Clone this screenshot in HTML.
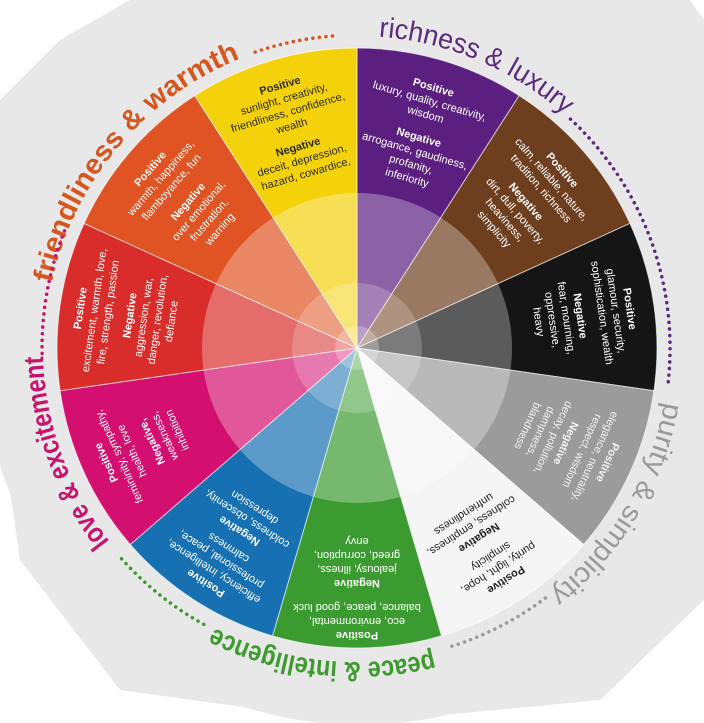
<!DOCTYPE html>
<html><head><meta charset="utf-8"><style>
html,body{margin:0;padding:0;background:#fff;width:704px;height:723px;overflow:hidden}
svg{display:block}
.t{font-family:"Liberation Sans",sans-serif;font-size:11px;text-anchor:middle}
.h{font-weight:bold}
.big{font-family:"Liberation Sans",sans-serif;font-size:28px}
</style></head><body>
<svg width="704" height="723" viewBox="0 0 704 723" xmlns="http://www.w3.org/2000/svg">
<circle cx="360" cy="345" r="380" fill="#e8e8e8"/>
<path d="M130 0 L690 0 L704 20 L704 600 L600 700 L360 723 L120 690 L20 560 L0 420 L0 100 L60 40 Z" fill="#e8e8e8"/>
<g stroke="rgba(255,255,255,0.6)" stroke-width="1">
<path d="M357 348 L357 48 A300 300 0 0 1 519.2 95.6Z" fill="#5b1f80"/>
<path d="M357 348 L519.2 95.6 A300 300 0 0 1 629.9 223.4Z" fill="#6e3f1e"/>
<path d="M357 348 L629.9 223.4 A300 300 0 0 1 653.9 390.7Z" fill="#151515"/>
<path d="M357 348 L653.9 390.7 A300 300 0 0 1 583.7 544.5Z" fill="#9b9b9b"/>
<path d="M357 348 L583.7 544.5 A300 300 0 0 1 441.5 635.9Z" fill="#f5f5f5"/>
<path d="M357 348 L441.5 635.9 A300 300 0 0 1 272.5 635.9Z" fill="#3b9b30"/>
<path d="M357 348 L272.5 635.9 A300 300 0 0 1 130.3 544.5Z" fill="#1670b2"/>
<path d="M357 348 L130.3 544.5 A300 300 0 0 1 60.1 390.7Z" fill="#d3106f"/>
<path d="M357 348 L60.1 390.7 A300 300 0 0 1 84.1 223.4Z" fill="#d82d2a"/>
<path d="M357 348 L84.1 223.4 A300 300 0 0 1 194.8 95.6Z" fill="#e05322"/>
<path d="M357 348 L194.8 95.6 A300 300 0 0 1 357 48Z" fill="#f3d20b"/>
</g>
<circle cx="357" cy="348" r="155" fill="#fff" fill-opacity="0.3"/>
<circle cx="357" cy="348" r="65" fill="#fff" fill-opacity="0.2"/>
<circle cx="357" cy="348" r="22" fill="#fff" fill-opacity="0.25"/>

<defs>
<path id="p1" d="M51.8 283.1 A312 312 0 0 1 340.7 36.4"/>
<path id="p2" d="M378.8 36.7 A312 312 0 0 1 627.2 192"/>
<path id="p3" d="M664.3 402.2 A312 312 0 0 1 463.7 641.2"/>
<path id="p4" d="M433 652.7 A314 314 0 0 1 176.9 605.6"/>
<path id="p5" d="M109.6 541.3 A314 314 0 0 1 62 240.6"/>
</defs>
<text class="big" fill="#d5571f" font-weight="bold"><textPath href="#p1" textLength="305" lengthAdjust="spacingAndGlyphs">friendliness &amp; warmth</textPath></text>
<text class="big" fill="#5a2a7c"><textPath href="#p2" textLength="205" lengthAdjust="spacingAndGlyphs">richness &amp; luxury</textPath></text>
<text class="big" fill="#9a9a9a"><textPath href="#p3" textLength="228" lengthAdjust="spacingAndGlyphs">purity &amp; simplicity</textPath></text>
<text class="big" fill="#3d9a2e" font-weight="bold"><textPath href="#p4" textLength="225" lengthAdjust="spacingAndGlyphs">peace &amp; intelligence</textPath></text>
<text class="big" fill="#c8136e" font-weight="bold"><textPath href="#p5" textLength="200" lengthAdjust="spacingAndGlyphs">love &amp; excitement</textPath></text>

<g fill="none" stroke-width="3.5" stroke-linecap="round" stroke-dasharray="0.1 6.5">
<path d="M255.1 52.1 A313 313 0 0 1 335.2 35.8" stroke="#d5571f"/>
<path d="M570.5 119.1 A313 313 0 0 1 667.7 386.2" stroke="#5a2a7c"/>
<path d="M545.4 598 A313 313 0 0 1 448.5 647.3" stroke="#9a9a9a"/>
<path d="M203.8 624.4 A316 316 0 0 1 118.5 555.3" stroke="#3d9a2e"/>
<path d="M42.1 353.5 A315 315 0 0 1 64.9 230" stroke="#c8136e"/>
</g>

<g transform="translate(357,348) rotate(16.36)" fill="#fff">
<text class="t h" y="-268">Positive</text>
<text class="t" y="-254">luxury, quality, creativity,</text>
<text class="t" y="-240">wisdom</text>
<text class="t h" y="-216">Negative</text>
<text class="t" y="-202">arrogance, gaudiness,</text>
<text class="t" y="-188">profanity,</text>
<text class="t" y="-174">inferiority</text>
</g>
<g transform="translate(357,348) rotate(49.09)" fill="#fff">
<text class="t h" y="-268">Positive</text>
<text class="t" y="-254">calm, reliable, nature,</text>
<text class="t" y="-240">tradition, richness</text>
<text class="t h" y="-220">Negative</text>
<text class="t" y="-206">dirt, dull, poverty,</text>
<text class="t" y="-192">heaviness,</text>
<text class="t" y="-178">simplicity</text>
</g>
<g transform="translate(357,348) rotate(81.82)" fill="#fff">
<text class="t h" y="-272">Positive</text>
<text class="t" y="-258">glamour, security,</text>
<text class="t" y="-244">sophistication, wealth</text>
<text class="t h" y="-222">Negative</text>
<text class="t" y="-208">fear, mourning,</text>
<text class="t" y="-194">oppressive,</text>
<text class="t" y="-180">heavy</text>
</g>
<g transform="translate(357,348) rotate(114.55)" fill="#f2f2f2">
<text class="t h" y="-272">Positive</text>
<text class="t" y="-258">elegance, neutrality,</text>
<text class="t" y="-244">respect, wisdom</text>
<text class="t h" y="-226">Negative</text>
<text class="t" y="-212">decay, pollution,</text>
<text class="t" y="-198">dampness,</text>
<text class="t" y="-184">blandness</text>
</g>
<g transform="translate(357,348) rotate(147.27)" fill="#222">
<text class="t h" y="-272">Positive</text>
<text class="t" y="-258">purity, light, hope,</text>
<text class="t" y="-244">simplicity</text>
<text class="t h" y="-222">Negative</text>
<text class="t" y="-208">coldness, emptiness,</text>
<text class="t" y="-194">unfriendliness</text>
</g>
<g transform="translate(357,348) rotate(180)" fill="#fff">
<text class="t h" y="-284">Positive</text>
<text class="t" y="-270">eco, environmental,</text>
<text class="t" y="-256">balance, peace, good luck</text>
<text class="t h" y="-232">Negative</text>
<text class="t" y="-218">jealousy, illness,</text>
<text class="t" y="-204">greed, corruption,</text>
<text class="t" y="-190">envy</text>
</g>
<g transform="translate(357,348) rotate(212.73)" fill="#fff">
<text class="t h" y="-276">Positive</text>
<text class="t" y="-262">efficiency, intelligence,</text>
<text class="t" y="-248">professional, peace,</text>
<text class="t" y="-234">calmness</text>
<text class="t h" y="-214">Negative</text>
<text class="t" y="-200">coldness, obscenity,</text>
<text class="t" y="-186">depression</text>
</g>
<g transform="translate(357,348) rotate(245.45)" fill="#fff">
<text class="t h" y="-272">Positive</text>
<text class="t" y="-258">femininity, sympathy,</text>
<text class="t" y="-244">health, love</text>
<text class="t h" y="-222">Negative,</text>
<text class="t" y="-208">weakness,</text>
<text class="t" y="-194">inhibition</text>
</g>
<g transform="translate(357,348) rotate(278.18)" fill="#fff">
<text class="t h" y="-276">Positive</text>
<text class="t" y="-262">excitement, warmth, love,</text>
<text class="t" y="-248">fire, strength, passion</text>
<text class="t h" y="-226">Negative</text>
<text class="t" y="-212">aggression, war,</text>
<text class="t" y="-198">danger, revolution,</text>
<text class="t" y="-184">defiance</text>
</g>
<g transform="translate(357,348) rotate(310.91)" fill="#fff">
<text class="t h" y="-270">Positive</text>
<text class="t" y="-256">warmth, happiness,</text>
<text class="t" y="-242">flamboyance, fun</text>
<text class="t h" y="-220">Negative</text>
<text class="t" y="-206">over emotional,</text>
<text class="t" y="-192">frustration,</text>
<text class="t" y="-178">warning</text>
</g>
<g transform="translate(357,348) rotate(343.64)" fill="#2a2a2a">
<text class="t h" y="-270">Positive</text>
<text class="t" y="-256">sunlight, creativity,</text>
<text class="t" y="-242">friendliness, confidence,</text>
<text class="t" y="-228">wealth</text>
<text class="t h" y="-206">Negative</text>
<text class="t" y="-192">deceit, depression,</text>
<text class="t" y="-178">hazard, cowardice,</text>
</g>
</svg>
</body></html>
